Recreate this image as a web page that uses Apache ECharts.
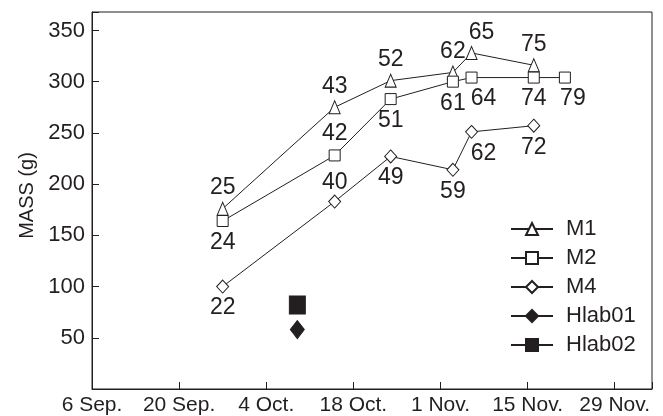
<!DOCTYPE html>
<html>
<head>
<meta charset="utf-8">
<script src="https://cdn.jsdelivr.net/npm/echarts@6/dist/echarts.min.js"></script>
<style>
  html, body { margin: 0; padding: 0; background: #fff; }
  #chart { width: 663px; height: 416px; }
</style>
</head>
<body>
<div id="chart"></div>
<script>
// x ticks every 14 days from 6 Sep.
const tickLabels = ['6 Sep.', '20 Sep.', '4 Oct.', '18 Oct.', '1 Nov.', '15 Nov.', '29 Nov.'];

const m1Dates = ['09-27', '10-15', '10-24', '11-03', '11-06', '11-16'];
const m1Mass = [176, 275, 301, 309, 328, 316];
const m1Age = [25, 43, 52, 62, 65, 75];

const m2Dates = ['09-27', '10-15', '10-24', '11-03', '11-06', '11-16', '11-21'];
const m2Mass = [164, 228, 283, 300, 304, 304, 304];
const m2Age = [24, 42, 51, 61, 64, 74, 79];

const m4Dates = ['09-27', '10-15', '10-24', '11-03', '11-06', '11-16'];
const m4Mass = [100, 183, 227, 214, 251, 257];
const m4Age = [22, 40, 49, 59, 62, 72];

const hlab01Dates = ['10-09'];
const hlab01Mass = [58];
const hlab02Dates = ['10-09'];
const hlab02Mass = [82];

const INK = '#231f20';
const FONT = '"Liberation Sans", Arial, Helvetica, sans-serif';

// days since 6 Sep.
function dayOf(md) {
    const [m, d] = md.split('-').map(Number);
    return (Date.UTC(2001, m - 1, d) - Date.UTC(2001, 8, 6)) / 86400000;
}

// where a few labels sit differently from the rest of their series
const labelTweaks = {
    M1: { 4: { offset: [10, 0] } },
    M2: { 1: { position: 'top', distance: 4 }, 4: { offset: [12, 0] }, 6: { offset: [8, 0] } },
    M4: { 1: { position: 'top', distance: 0 }, 4: { offset: [12, 0] } },
};

function makeSeries(name, dates, mass, ages, opts) {
    const tweaks = labelTweaks[name] || {};
    return {
        name: name,
        type: 'line',
        symbol: opts.symbol,
        symbolSize: opts.size,
        showAllSymbol: true,
        lineStyle: { color: INK, width: 1 },
        itemStyle: { color: opts.fill, borderColor: INK, borderWidth: 1 },
        emphasis: { disabled: true },
        label: ages ? {
            show: true,
            position: opts.labelPos,
            distance: opts.labelDist,
            color: INK,
            fontFamily: FONT,
            fontSize: 23,
            formatter: p => String(ages[p.dataIndex]),
        } : { show: false },
        data: dates.map((d, i) => {
            const item = { value: [dayOf(d), mass[i]] };
            if (tweaks[i]) item.label = tweaks[i];
            return item;
        }),
    };
}

const chart = echarts.init(document.getElementById('chart'), null, { renderer: 'canvas' });

chart.setOption({
    animation: false,
    textStyle: { fontFamily: FONT, color: INK },
    grid: {
        left: 92, right: 11, top: 12, bottom: 27,
        show: true, borderColor: INK, borderWidth: 1,
    },
    legend: {
        orient: 'vertical',
        left: 505,
        top: 213,
        itemWidth: 42,
        itemHeight: 15,
        itemGap: 7,
        selectedMode: false,
        textStyle: { fontFamily: FONT, fontSize: 22, color: INK, padding: [0, 0, 0, 8] },
        data: ['M1', 'M2', 'M4', 'Hlab01', 'Hlab02'],
    },
    xAxis: {
        type: 'value',
        min: 0,
        max: 90,
        interval: 14,
        splitLine: { show: false },
        axisLine: { lineStyle: { color: INK, width: 1 } },
        axisTick: { inside: true, length: 7, lineStyle: { color: INK } },
        axisLabel: {
            margin: 6,
            fontSize: 21,
            color: INK,
            fontFamily: FONT,
            showMinLabel: true,
            showMaxLabel: true,
            formatter: v => (v % 14 === 0 && tickLabels[v / 14]) ? tickLabels[v / 14] : '',
        },
    },
    yAxis: {
        type: 'value',
        min: 0,
        max: 368,
        interval: 50,
        name: 'MASS (g)',
        nameLocation: 'middle',
        nameGap: 54,
        nameTextStyle: { fontSize: 20, color: INK, fontFamily: FONT, padding: [0, 0, 0, 10] },
        splitLine: { show: false },
        axisLine: { show: true, lineStyle: { color: INK, width: 1 } },
        axisTick: { inside: true, length: 7, lineStyle: { color: INK } },
        axisLabel: {
            margin: 7,
            fontSize: 22,
            color: INK,
            fontFamily: FONT,
            formatter: v => (v > 0 && v % 50 === 0) ? String(v) : '',
        },
    },
    series: [
        makeSeries('M1', m1Dates, m1Mass, m1Age, { symbol: 'triangle', size: [11, 13], fill: '#fff', labelPos: 'top', labelDist: 2 }),
        makeSeries('M2', m2Dates, m2Mass, m2Age, { symbol: 'rect', size: [11, 11], fill: '#fff', labelPos: 'bottom', labelDist: 4 }),
        makeSeries('M4', m4Dates, m4Mass, m4Age, { symbol: 'diamond', size: [12, 13], fill: '#fff', labelPos: 'bottom', labelDist: 3 }),
        makeSeries('Hlab01', hlab01Dates, hlab01Mass, null, { symbol: 'diamond', size: [14, 18], fill: INK }),
        makeSeries('Hlab02', hlab02Dates, hlab02Mass, null, { symbol: 'rect', size: [16, 18], fill: INK }),
    ],
});
</script>
</body>
</html>
